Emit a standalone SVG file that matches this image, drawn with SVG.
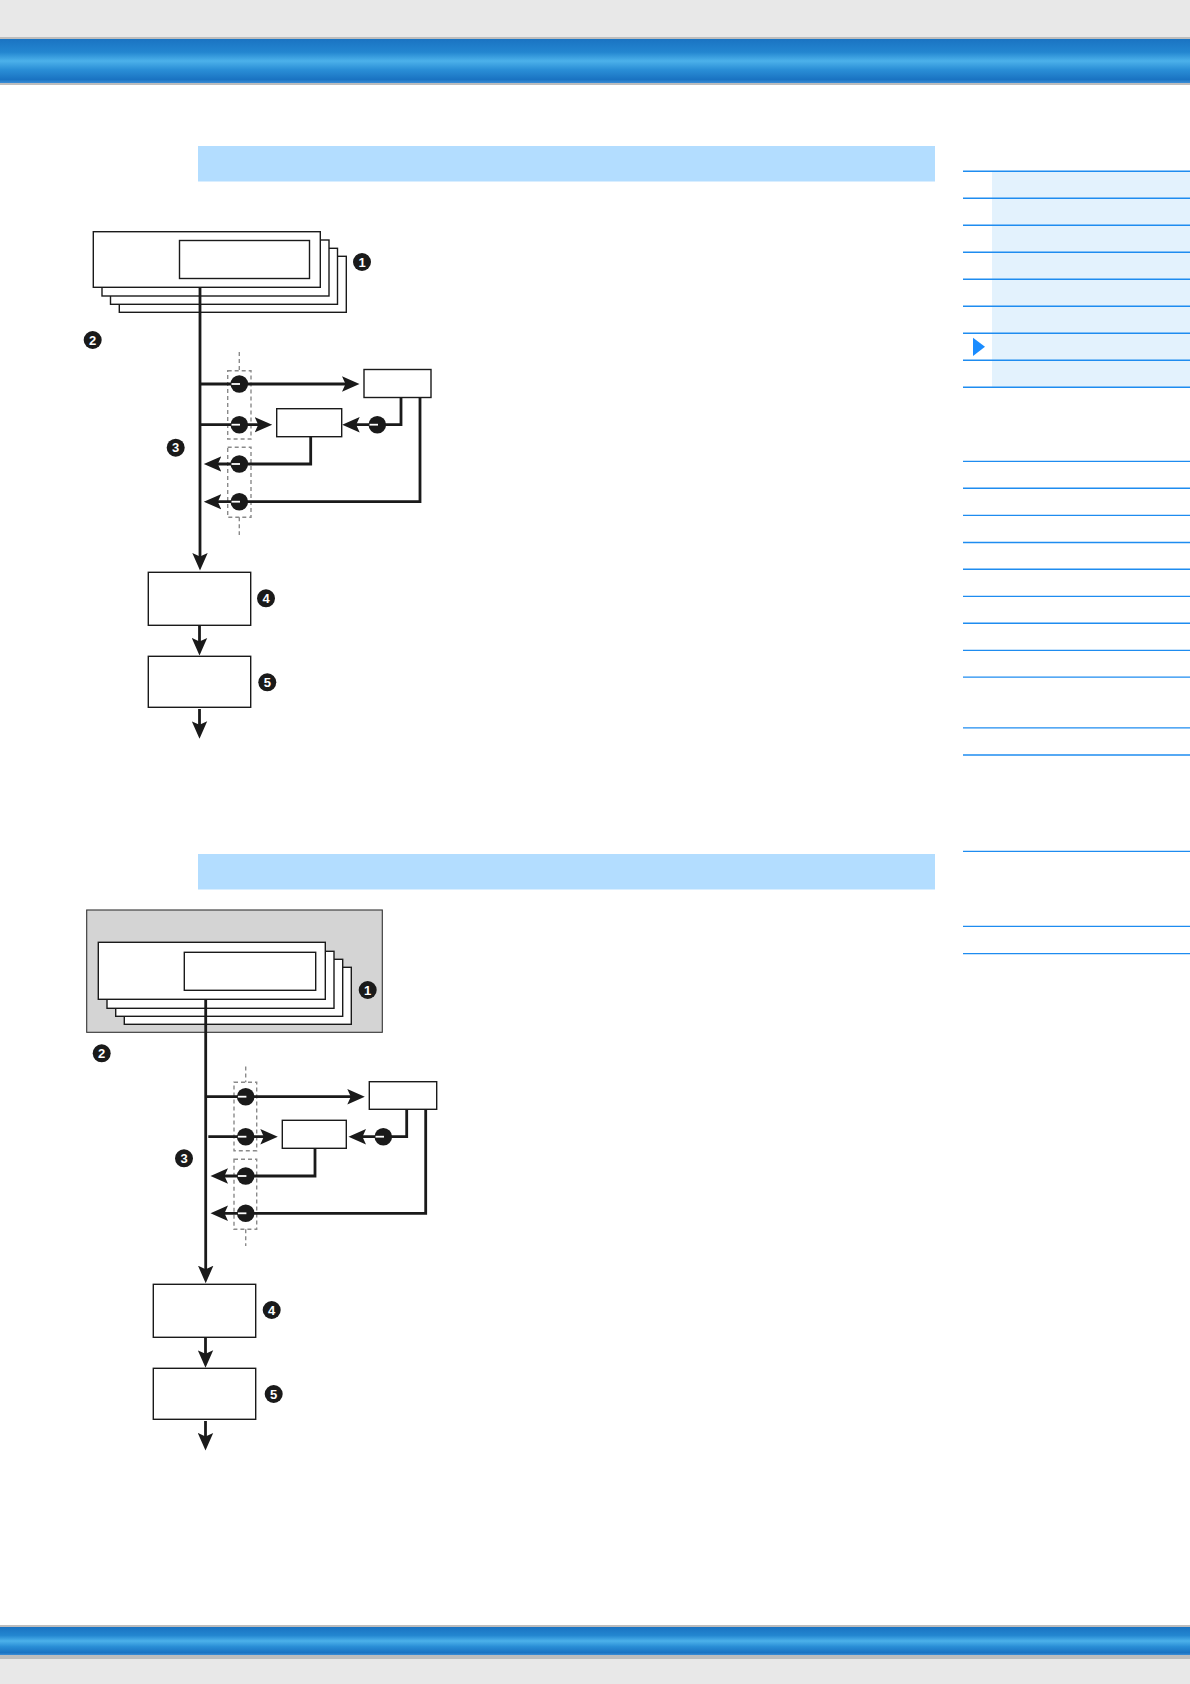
<svg xmlns="http://www.w3.org/2000/svg" width="1190" height="1684" viewBox="0 0 1190 1684">
<style>
.box{fill:#fff;stroke:#1a1a1a;stroke-width:1.4}
.wire{fill:none;stroke:#1a1a1a;stroke-width:2.8}
.arr{fill:none;stroke:#1a1a1a;stroke-width:2.8;marker-end:url(#ah)}
.dash{fill:none;stroke:#8a8a8a;stroke-width:1.4;stroke-dasharray:4 3}
.sw{fill:#1a1a1a}
.swl{stroke:#fff;stroke-width:1.8}
.badge{fill:#1a1a1a}
.bt{fill:#fff;font-family:"Liberation Sans",Arial,sans-serif;font-weight:bold;font-size:13px;text-anchor:middle}
.side{stroke:#1E8CF0;stroke-width:1.4}
.hdr{fill:#B3DDFF}
</style>
<defs>
<linearGradient id="bar" x1="0" y1="0" x2="0" y2="1">
<stop offset="0" stop-color="#1A73C2"/>
<stop offset="0.3" stop-color="#2386D0"/>
<stop offset="0.5" stop-color="#4CB1EA"/>
<stop offset="0.7" stop-color="#2A8ED6"/>
<stop offset="0.92" stop-color="#1A73C2"/>
<stop offset="1" stop-color="#3B8DD6"/>
</linearGradient>
<marker id="ah" markerUnits="userSpaceOnUse" markerWidth="18" markerHeight="16" viewBox="0 0 18 16" refX="8" refY="8" orient="auto">
<path d="M0,0.3 L17.5,8 L0,15.7 L3.5,8 Z" fill="#1a1a1a"/>
</marker>
</defs>

<!-- page chrome -->
<rect x="0" y="0" width="1190" height="37" fill="#E8E8E8"/>
<rect x="0" y="37" width="1190" height="2" fill="#BDBDBD"/>
<rect x="0" y="39" width="1190" height="44" fill="url(#bar)"/>
<rect x="0" y="83" width="1190" height="2" fill="#BDBDBD"/>
<rect x="0" y="1625" width="1190" height="2" fill="#BDBDBD"/>
<rect x="0" y="1627" width="1190" height="28" fill="url(#bar)"/>
<rect x="0" y="1655" width="1190" height="4" fill="#BDBDBD"/>
<rect x="0" y="1659" width="1190" height="25" fill="#E8E8E8"/>

<rect class="hdr" x="198" y="146" width="737" height="35.5"/>
<rect class="hdr" x="198" y="854" width="737" height="35.5"/>

<!-- sidebar -->
<g id="sidebar">
<rect x="992" y="171.3" width="198" height="216" fill="#E3F2FD"/>
<line class="side" x1="963" y1="171.3" x2="1190" y2="171.3"/>
<line class="side" x1="963" y1="198.3" x2="1190" y2="198.3"/>
<line class="side" x1="963" y1="225.3" x2="1190" y2="225.3"/>
<line class="side" x1="963" y1="252.3" x2="1190" y2="252.3"/>
<line class="side" x1="963" y1="279.3" x2="1190" y2="279.3"/>
<line class="side" x1="963" y1="306.3" x2="1190" y2="306.3"/>
<line class="side" x1="963" y1="333.3" x2="1190" y2="333.3"/>
<line class="side" x1="963" y1="360.3" x2="1190" y2="360.3"/>
<line class="side" x1="963" y1="387.3" x2="1190" y2="387.3"/>
<polygon points="973,337.7 985,346.8 973,356" fill="#1A8CFF"/>
<line class="side" x1="963" y1="461.4" x2="1190" y2="461.4"/>
<line class="side" x1="963" y1="488.2" x2="1190" y2="488.2"/>
<line class="side" x1="963" y1="515.4" x2="1190" y2="515.4"/>
<line class="side" x1="963" y1="542.5" x2="1190" y2="542.5"/>
<line class="side" x1="963" y1="569.3" x2="1190" y2="569.3"/>
<line class="side" x1="963" y1="596.4" x2="1190" y2="596.4"/>
<line class="side" x1="963" y1="623.2" x2="1190" y2="623.2"/>
<line class="side" x1="963" y1="650.4" x2="1190" y2="650.4"/>
<line class="side" x1="963" y1="677.1" x2="1190" y2="677.1"/>
<line class="side" x1="963" y1="727.9" x2="1190" y2="727.9"/>
<line class="side" x1="963" y1="755" x2="1190" y2="755"/>
<line class="side" x1="963" y1="851.4" x2="1190" y2="851.4"/>
<line class="side" x1="963" y1="926.4" x2="1190" y2="926.4"/>
<line class="side" x1="963" y1="953.6" x2="1190" y2="953.6"/>
</g>

<!-- ===== Diagram 1 ===== -->
<g id="d1-stack">
<rect class="box" x="119.3" y="256.3" width="227" height="56"/>
<rect class="box" x="110.5" y="248.3" width="227" height="56"/>
<rect class="box" x="102" y="240" width="227" height="56"/>
<rect class="box" x="93.3" y="231.7" width="227" height="55.6"/>
<rect class="box" x="179.5" y="240.5" width="130" height="38"/>
</g>
<g id="d1-boxA"><rect class="box" x="364" y="369.5" width="67" height="28"/></g>
<g id="d1-boxB"><rect class="box" x="276.7" y="408.7" width="65" height="28"/></g>
<g id="d1-box4"><rect class="box" x="148.3" y="572.3" width="102.4" height="53"/></g>
<g id="d1-box5"><rect class="box" x="148.3" y="656.3" width="102.4" height="51"/></g>

<g id="d1-dashes">
<rect class="dash" x="227.7" y="370.7" width="23.3" height="68.3"/>
<rect class="dash" x="227.7" y="447.3" width="23.3" height="70"/>
<line class="dash" x1="239.3" y1="352" x2="239.3" y2="370.7"/>
<line class="dash" x1="239.3" y1="517.3" x2="239.3" y2="535"/>
</g>

<g id="d1-connectors">
<path class="arr" d="M200,287.3 V561"/>
<path class="arr" d="M200,384 H350"/>
<path class="arr" d="M200,424.7 H262.7"/>
<path class="arr" d="M401,397.5 V424.7 H351.7"/>
<path class="arr" d="M310.7,436.7 V464 H213.3"/>
<path class="arr" d="M420,397.5 V501.7 H213.3"/>
<path class="arr" d="M199.5,625.3 V646"/>
<path class="arr" d="M199.5,709 V729.3"/>
</g>

<g id="d1-switches">
<circle class="sw" cx="239.3" cy="384" r="8.8"/><line class="swl" x1="231.5" y1="384" x2="240" y2="384"/>
<circle class="sw" cx="239.3" cy="424.7" r="8.8"/><line class="swl" x1="231.5" y1="424.7" x2="240" y2="424.7"/>
<circle class="sw" cx="239.3" cy="464" r="8.8"/><line class="swl" x1="231.5" y1="464" x2="240" y2="464"/>
<circle class="sw" cx="239.3" cy="501.7" r="8.8"/><line class="swl" x1="231.5" y1="501.7" x2="240" y2="501.7"/>
<circle class="sw" cx="377.3" cy="424.7" r="8.8"/><line class="swl" x1="369.5" y1="424.7" x2="378" y2="424.7"/>
</g>

<g id="d1-badges">
<circle class="badge" cx="362" cy="262" r="9"/><text class="bt" x="362" y="266.6">1</text>
<circle class="badge" cx="92.7" cy="340" r="9"/><text class="bt" x="92.7" y="344.6">2</text>
<circle class="badge" cx="175.7" cy="447.7" r="9"/><text class="bt" x="175.7" y="452.3">3</text>
<circle class="badge" cx="266" cy="598.3" r="9"/><text class="bt" x="266" y="602.9">4</text>
<circle class="badge" cx="267.3" cy="682.3" r="9"/><text class="bt" x="267.3" y="686.9">5</text>
</g>

<!-- ===== Diagram 2 ===== -->
<g id="d2-frame"><rect x="86.7" y="910" width="295.6" height="122.3" fill="#D4D4D4" stroke="#333" stroke-width="1.1"/></g>
<g id="d2-stack">
<rect class="box" x="124.3" y="967.3" width="227" height="57"/>
<rect class="box" x="115.7" y="959.3" width="227" height="57"/>
<rect class="box" x="107" y="951.3" width="227" height="57"/>
<rect class="box" x="98.3" y="942.3" width="227" height="57"/>
<rect class="box" x="184.3" y="952.3" width="131.4" height="38"/>
</g>
<g id="d2-boxA"><rect class="box" x="369.3" y="1081.7" width="67.4" height="27.6"/></g>
<g id="d2-boxB"><rect class="box" x="282.3" y="1120.3" width="64" height="28"/></g>
<g id="d2-box4"><rect class="box" x="153.3" y="1284.3" width="102.4" height="53"/></g>
<g id="d2-box5"><rect class="box" x="153.3" y="1368.3" width="102.4" height="51"/></g>

<g id="d2-dashes">
<rect class="dash" x="234" y="1082.3" width="22.7" height="68.4"/>
<rect class="dash" x="234" y="1159.3" width="22.7" height="70"/>
<line class="dash" x1="245.7" y1="1066.5" x2="245.7" y2="1082.3"/>
<line class="dash" x1="245.7" y1="1229.3" x2="245.7" y2="1246"/>
</g>

<g id="d2-connectors">
<path class="arr" d="M205.7,999.3 V1273.7"/>
<path class="arr" d="M205.7,1096.7 H355.3"/>
<path class="arr" d="M208.3,1136.7 H268.3"/>
<path class="arr" d="M406.7,1109.3 V1136.7 H358"/>
<path class="arr" d="M315,1148.3 V1176 H220"/>
<path class="arr" d="M425.7,1109.3 V1213.3 H220"/>
<path class="arr" d="M205.5,1337.3 V1358.3"/>
<path class="arr" d="M205.5,1421 V1441"/>
</g>

<g id="d2-switches">
<circle class="sw" cx="245.7" cy="1096.7" r="8.8"/><line class="swl" x1="237.9" y1="1096.7" x2="246.4" y2="1096.7"/>
<circle class="sw" cx="245.7" cy="1136.7" r="8.8"/><line class="swl" x1="237.9" y1="1136.7" x2="246.4" y2="1136.7"/>
<circle class="sw" cx="245.7" cy="1176" r="8.8"/><line class="swl" x1="237.9" y1="1176" x2="246.4" y2="1176"/>
<circle class="sw" cx="245.7" cy="1213.3" r="8.8"/><line class="swl" x1="237.9" y1="1213.3" x2="246.4" y2="1213.3"/>
<circle class="sw" cx="383.3" cy="1136.7" r="8.8"/><line class="swl" x1="375.5" y1="1136.7" x2="384" y2="1136.7"/>
</g>

<g id="d2-badges">
<circle class="badge" cx="367.7" cy="990" r="9"/><text class="bt" x="367.7" y="994.6">1</text>
<circle class="badge" cx="101.7" cy="1053.3" r="9"/><text class="bt" x="101.7" y="1057.9">2</text>
<circle class="badge" cx="184" cy="1158.3" r="9"/><text class="bt" x="184" y="1162.9">3</text>
<circle class="badge" cx="271.7" cy="1310" r="9"/><text class="bt" x="271.7" y="1314.6">4</text>
<circle class="badge" cx="273.7" cy="1394" r="9"/><text class="bt" x="273.7" y="1398.6">5</text>
</g>
</svg>
